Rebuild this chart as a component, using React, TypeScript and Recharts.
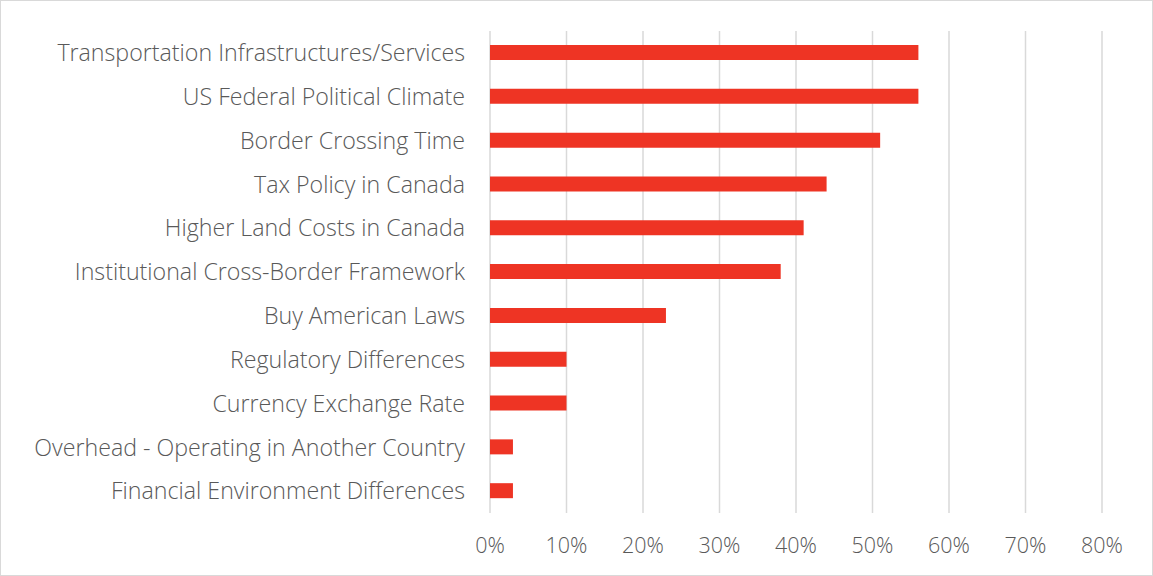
import { BarChart, Bar, XAxis, YAxis, CartesianGrid } from "recharts";

const categories = [
  "Transportation Infrastructures/Services",
  "US Federal Political Climate",
  "Border Crossing Time",
  "Tax Policy in Canada",
  "Higher Land Costs in Canada",
  "Institutional Cross-Border Framework",
  "Buy American Laws",
  "Regulatory Differences",
  "Currency Exchange Rate",
  "Overhead - Operating in Another Country",
  "Financial Environment Differences",
];

const shares = [56, 56, 51, 44, 41, 38, 23, 10, 10, 3, 3];

const xTicks = [0, 10, 20, 30, 40, 50, 60, 70, 80];

const data = categories.map((name, i) => ({ name, share: shares[i] }));

const FONT = "'Open Sans', Lato, sans-serif";
const TEXT = "#595959";

export default function App() {
  return (
    <div
      style={{
        position: "absolute",
        left: 0,
        top: 0,
        width: 1153,
        height: 576,
        boxSizing: "border-box",
        border: "1px solid #d9d9d9",
        background: "#fff",
        fontFamily: FONT,
      }}
    >
      <BarChart
        width={1151}
        height={574}
        data={data}
        layout="vertical"
        margin={{ top: 30, right: 50, left: 0, bottom: 32 }}
      >
        <CartesianGrid horizontal={false} vertical stroke="#d9d9d9" strokeWidth={1.5} />
        <XAxis
          type="number"
          domain={[0, 80]}
          ticks={xTicks}
          tickFormatter={(v) => `${v}%`}
          tick={{ fill: TEXT, fontSize: 21.5, fontFamily: FONT, fontWeight: 300 }}
          tickLine={false}
          axisLine={false}
          tickMargin={19}
          interval={0}
        />
        <YAxis
          type="category"
          dataKey="name"
          width={489}
          tick={{ fill: TEXT, fontSize: 23.2, fontFamily: FONT, fontWeight: 300 }}
          tickLine={false}
          axisLine={false}
          tickMargin={19}
          interval={0}
        />
        <Bar dataKey="share" fill="#EE3424" barSize={15} isAnimationActive={false} />
      </BarChart>
    </div>
  );
}
